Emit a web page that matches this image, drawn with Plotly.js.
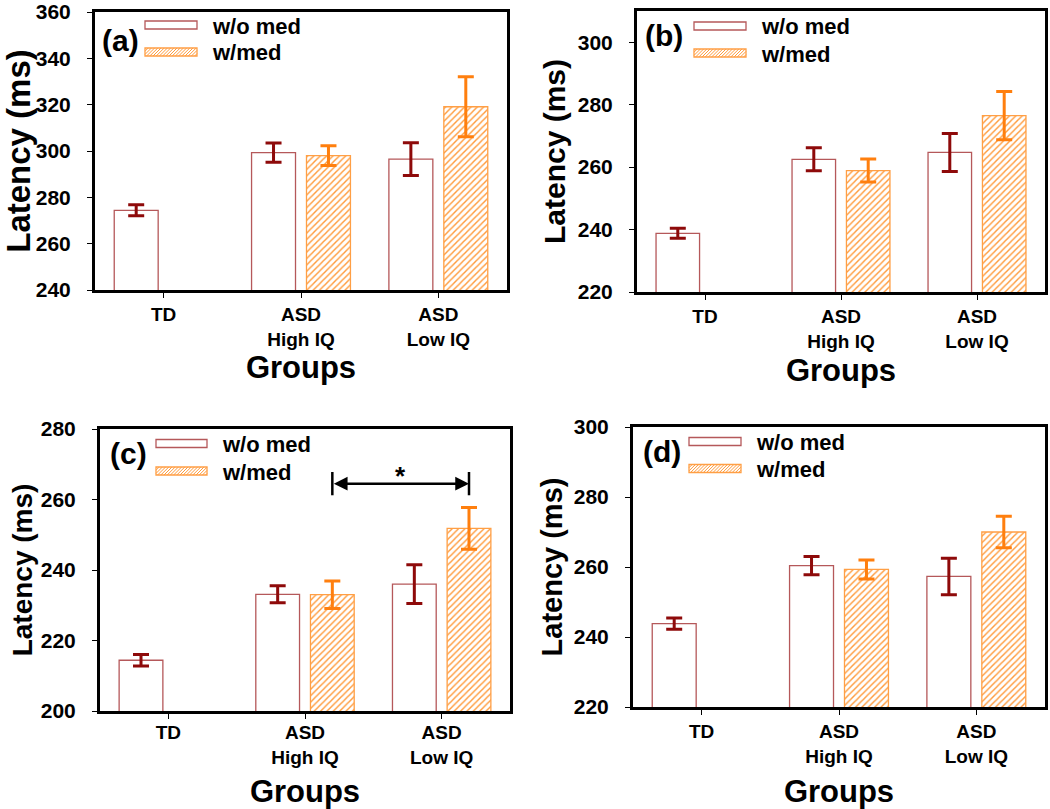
<!DOCTYPE html>
<html><head><meta charset="utf-8">
<script src="https://cdn.plot.ly/plotly-3.0.1.min.js"></script>
<style>html,body{margin:0;padding:0;background:#fff}#chart{width:1050px;height:809px}</style>
</head><body><div id="chart"></div>
<script>
// ---------------- DATA ----------------
const categories = ['TD', 'ASD<br>High IQ', 'ASD<br>Low IQ'];
const seriesNames = ['w/o med', 'w/med'];
const panelLabels = ['(a)', '(b)', '(c)', '(d)'];
const xTitle = 'Groups';
const yTitle = 'Latency (ms)';

// Panel (a)
const aWoMed = [274.4, 299.3, 296.5];
const aWoMedErr = [2.4, 4.2, 7.1];
const aWMed = [null, 298.0, 319.1];
const aWMedErr = [null, 4.3, 12.9];
// Panel (b)
const bWoMed = [238.8, 262.5, 264.7];
const bWoMedErr = [1.6, 3.7, 6.1];
const bWMed = [null, 258.9, 276.5];
const bWMedErr = [null, 3.7, 7.7];
// Panel (c)
const cWoMed = [214.4, 233.1, 236.0];
const cWoMedErr = [1.6, 2.4, 5.5];
const cWMed = [null, 233.0, 251.8];
const cWMedErr = [null, 3.9, 5.9];
// Panel (d)
const dWoMed = [243.8, 260.4, 257.3];
const dWoMedErr = [1.6, 2.6, 5.2];
const dWMed = [null, 259.3, 270.0];
const dWMedErr = [null, 2.7, 4.5];

const yRanges = [[240, 360], [220, 310], [200, 280], [220, 300]];
const yTickVals = [
  [240, 260, 280, 300, 320, 340, 360],
  [220, 240, 260, 280, 300],
  [200, 220, 240, 260, 280],
  [220, 240, 260, 280, 300]
];
// significance marker in panel (c): between w/med of High IQ and w/med of Low IQ
const sigPanel = 2;
const sigLevel = 264.5;
const sigLabel = '*';

// ---------------- STYLE / LAYOUT ----------------
const W = 1050, H = 809;
const FONT = 'Liberation Sans, Arial, sans-serif';
const woLine = '#b5585a', woErr = '#8e0a0a';
const wLine = '#ff9f45', wHatch = '#ff9a3a', wErr = '#ff7f0e';

// panel plot-area boxes in pixels
const boxes = [
  {l: 95, r: 507, t: 12, b: 290, ytf: 33, ystand: 22, xstand: 8, xls: 0},
  {l: 637, r: 1045, t: 11, b: 292, ytf: 30, ystand: 4, xstand: 9, xls: 0},
  {l: 100, r: 510, t: 429, b: 711, ytf: 28, ystand: 0, xstand: 31, xls: -3},
  {l: 633, r: 1045, t: 427, b: 707, ytf: 29, ystand: 3, xstand: 29, xls: 0}
];
// manual legend positions (pixels)
const legPos = [
  {lab: [100, 40], rx: [145, 197], r1: 25, r2: 52, tx: 210, t1: 26, t2: 53},
  {lab: [643, 35], rx: [694, 746], r1: 26, r2: 53, tx: 759, t1: 27, t2: 54},
  {lab: [108, 453], rx: [156, 207], r1: 443.5, r2: 471, tx: 220, t1: 444, t2: 472},
  {lab: [641, 451], rx: [689, 741], r1: 441.5, r2: 468.5, tx: 754, t1: 443, t2: 469}
];

const woVals = [aWoMed, bWoMed, cWoMed, dWoMed];
const woErrs = [aWoMedErr, bWoMedErr, cWoMedErr, dWoMedErr];
const wVals = [aWMed, bWMed, cWMed, dWMed];
const wErrs = [aWMedErr, bWMedErr, cWMedErr, dWMedErr];

const px = x => x / W;
const py = y => 1 - y / H;

const traces = [];
const layout = {
  width: W, height: H,
  margin: {l: 0, r: 0, t: 0, b: 0},
  paper_bgcolor: '#fff', plot_bgcolor: '#fff',
  showlegend: false,
  barmode: 'group', bargap: 0.2, bargroupgap: 0.2,
  font: {family: FONT, color: '#000'},
  shapes: [], annotations: []
};

function hatchPath(w, h, s) {
  const x0 = -w / 2, x1 = w / 2, y0 = -h / 2;
  let p = '';
  for (let c = -h; c <= w; c += s) {
    let xa = Math.max(x0, x0 + c), xb = Math.min(x1, x0 + c + h);
    if (xb <= xa) continue;
    const ya = y0 + (xa - x0 - c), yb = y0 + (xb - x0 - c);
    p += `M${xa.toFixed(2)},${ya.toFixed(2)}L${xb.toFixed(2)},${yb.toFixed(2)}`;
  }
  return p;
}

for (let i = 0; i < 4; i++) {
  const n = i === 0 ? '' : String(i + 1);
  const xa = 'x' + n, ya = 'y' + n;
  const bx = boxes[i];
  traces.push({
    type: 'bar', name: seriesNames[0], x: categories, y: woVals[i],
    xaxis: xa, yaxis: ya,
    marker: {color: '#ffffff', line: {color: woLine, width: 1.3}},
    error_y: {type: 'data', array: woErrs[i], visible: true, color: woErr, thickness: 3, width: 8}
  });
  traces.push({
    type: 'bar', name: seriesNames[1], x: categories, y: wVals[i],
    xaxis: xa, yaxis: ya,
    marker: {color: '#ffffff', line: {color: wLine, width: 1.3},
      pattern: {shape: '/', fgcolor: wHatch, bgcolor: '#ffffff', size: 4.5, solidity: 0.32}},
    error_y: {type: 'data', array: wErrs[i], visible: true, color: wErr, thickness: 3, width: 8}
  });
  layout['xaxis' + n] = {
    domain: [px(bx.l), px(bx.r)], anchor: ya,
    type: 'category', range: [-0.5, 2.5],
    showline: true, linewidth: 3, linecolor: '#000', mirror: true,
    ticks: 'outside', ticklen: 5, tickwidth: 1, tickcolor: '#000',
    tickfont: {family: FONT, size: 19, weight: 'bold', color: '#000'},
    ticklabelstandoff: bx.xls, ticklabeloverflow: 'allow',
    showgrid: false, zeroline: false, fixedrange: true,
    title: {text: xTitle, font: {family: FONT, size: 31, weight: 'bold', color: '#000'}, standoff: bx.xstand}
  };
  layout['yaxis' + n] = {
    domain: [py(bx.b), py(bx.t)], anchor: xa,
    range: yRanges[i], tickvals: yTickVals[i],
    showline: true, linewidth: 3, linecolor: '#000', mirror: true,
    ticks: 'outside', ticklen: 5, tickwidth: 1, tickcolor: '#000',
    tickfont: {family: FONT, size: 21, weight: 'bold', color: '#000'},
    ticklabelstandoff: 12, ticklabeloverflow: 'allow',
    showgrid: false, zeroline: false, fixedrange: true,
    title: {text: yTitle, font: {family: FONT, size: bx.ytf, weight: 'bold', color: '#000'}, standoff: bx.ystand}
  };

  // manual legend + panel label
  const lp = legPos[i];
  layout.annotations.push({
    xref: 'paper', yref: 'paper', x: px(lp.lab[0]), y: py(lp.lab[1]),
    xanchor: 'left', yanchor: 'middle', showarrow: false,
    text: panelLabels[i], font: {family: FONT, size: 30, weight: 'bold', color: '#000'}
  });
  layout.shapes.push({
    type: 'rect', xref: 'paper', yref: 'paper',
    x0: px(lp.rx[0]), x1: px(lp.rx[1]), y0: py(lp.r1 - 4), y1: py(lp.r1 + 4),
    line: {color: woLine, width: 1.3}, fillcolor: '#ffffff'
  });
  const cx = (lp.rx[0] + lp.rx[1]) / 2, rw = lp.rx[1] - lp.rx[0];
  layout.shapes.push({
    type: 'path', xref: 'paper', yref: 'paper',
    xsizemode: 'pixel', ysizemode: 'pixel', xanchor: px(cx), yanchor: py(lp.r2),
    path: hatchPath(rw, 8, 3.2), line: {color: wHatch, width: 1}
  });
  layout.shapes.push({
    type: 'rect', xref: 'paper', yref: 'paper',
    x0: px(lp.rx[0]), x1: px(lp.rx[1]), y0: py(lp.r2 - 4), y1: py(lp.r2 + 4),
    line: {color: wLine, width: 1.3}, fillcolor: 'rgba(0,0,0,0)'
  });
  layout.annotations.push({
    xref: 'paper', yref: 'paper', x: px(lp.tx), y: py(lp.t1),
    xanchor: 'left', yanchor: 'middle', showarrow: false,
    text: seriesNames[0], font: {family: FONT, size: 22, weight: 'bold', color: '#000'}
  });
  layout.annotations.push({
    xref: 'paper', yref: 'paper', x: px(lp.tx), y: py(lp.t2),
    xanchor: 'left', yanchor: 'middle', showarrow: false,
    text: seriesNames[1], font: {family: FONT, size: 22, weight: 'bold', color: '#000'}
  });
}

// significance bracket in panel (c)
(function () {
  const n = String(sigPanel + 1);
  const xr = 'x' + n, yr = 'y' + n;
  const xFrom = 1.2, xTo = 2.2; // centres of the two w/med bars
  layout.annotations.push({
    xref: xr, yref: yr, axref: xr, ayref: yr,
    x: xTo, y: sigLevel, ax: xFrom, ay: sigLevel,
    showarrow: true, arrowside: 'end+start', arrowhead: 2, arrowsize: 1.1,
    arrowwidth: 2.5, arrowcolor: '#000', standoff: 0, startstandoff: 0, text: ''
  });
  [xFrom, xTo].forEach(xv => layout.shapes.push({
    type: 'line', xref: xr, yref: yr, x0: xv, x1: xv, y0: sigLevel - 3.3, y1: sigLevel + 3.3,
    line: {color: '#000', width: 2.5}
  }));
  layout.annotations.push({
    xref: xr, yref: yr, x: (xFrom + xTo) / 2, y: sigLevel + 2.2,
    xanchor: 'center', yanchor: 'middle', showarrow: false,
    text: sigLabel, font: {family: FONT, size: 26, weight: 'bold', color: '#000'}
  });
})();

Plotly.newPlot('chart', traces, layout, {staticPlot: true, displayModeBar: false});
</script>
</body></html>
